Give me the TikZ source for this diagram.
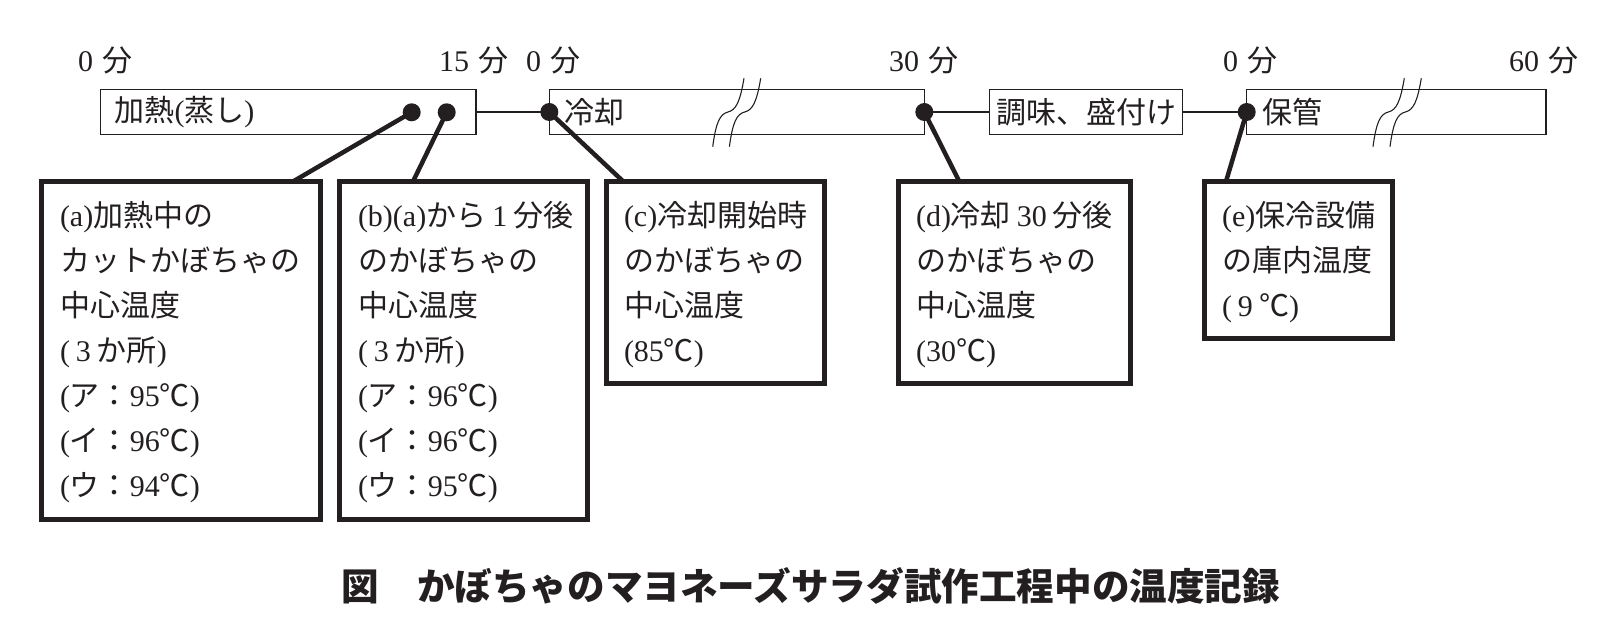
\documentclass[tikz,border=0pt]{standalone}
\usepackage{fontspec}
\setmainfont{Liberation Serif}
\newfontfamily\jp{Noto Sans CJK JP}
\usetikzlibrary{calc}
\definecolor{ink}{HTML}{231F20}
\newcommand\Lat[1]{{\rmfamily #1}}
\newcommand\qs{\hspace{0.2em}}
\newcommand\ls{\hspace{0.3em}}
\newcommand\pp[1]{\Lat{(}#1\Lat{)}}
\tikzset{
  brkmark/.pic={\draw[line width=1.1pt] (0,0) .. controls (3.3,-24.7) and (7.3,-32.7) .. (15.3,-34.7) .. controls (23.3,-36.7) and (27.3,-44.7) .. (31.3,-68.4);}
}
\begin{document}
\begin{tikzpicture}[x=1pt,y=-1pt,color=ink,
  every node/.style={inner sep=0pt, outer sep=0pt},
  jpfont/.style={font=\jp\fontsize{30}{45}\selectfont},
  tbox/.style={draw, line width=1.4pt, minimum height=45pt},
  callout/.style={draw, line width=5pt, rectangle},
  ctext/.style={jpfont, align=left, anchor=west},
  dotnode/.style={circle, fill, minimum size=18pt},
  leader/.style={line width=4.5pt},
  thinline/.style={line width=1.4pt}
]
\useasboundingbox (0,0) rectangle (1606,640);

% timeline boxes
\node[tbox, minimum width=375.5pt] (heat) at (288.25,112) {};
\node[tbox, minimum width=375pt] (cool) at (736.8,112) {};
\node[tbox, minimum width=193.4pt] (season) at (1086,112) {};
\node[tbox, minimum width=299.3pt] (keep) at (1396.35,112) {};

\node[jpfont, anchor=west] (heatT) at ($(heat.west)+(14,0)$) {加熱\Lat{(}蒸し\Lat{)}};
\node[jpfont, anchor=west] (coolT) at ($(cool.west)+(15,0)$) {冷却};
\node[jpfont] (seasonT) at (season.center) {調味、盛付け};
\node[jpfont, anchor=west] (keepT) at ($(keep.west)+(16,0)$) {保管};

% break marks
\pic at (712.7,146.7) {brkmark};
\pic at (729.4,146.7) {brkmark};
\pic at (1373,146.7) {brkmark};
\pic at (1390,146.7) {brkmark};

% time labels
\node[jpfont, anchor=base west] (t0) at (78,71) {\Lat{0}\ls 分};
\node[jpfont, anchor=base east] (t15) at (508,71) {\Lat{15}\ls 分};
\node[jpfont, anchor=base west] (t0b) at (526,71) {\Lat{0}\ls 分};
\node[jpfont, anchor=base east] (t30) at (958,71) {\Lat{30}\ls 分};
\node[jpfont, anchor=base west] (t0c) at (1223,71) {\Lat{0}\ls 分};
\node[jpfont, anchor=base east] (t60) at (1578,71) {\Lat{60}\ls 分};

% connectors
\draw[thinline] (heat.east) -- (cool.west);
\draw[thinline] (cool.east) -- (season.west);
\draw[thinline] (season.east) -- (keep.west);

% callout boxes
\node[callout, minimum width=279pt, minimum height=338pt, anchor=north west] (ba) at (41.5,181.5) {};
\node[callout, minimum width=248pt, minimum height=338pt, anchor=north west] (bb) at (339.5,181.5) {};
\node[callout, minimum width=218pt, minimum height=202pt, anchor=north west] (bc) at (606.5,181.5) {};
\node[callout, minimum width=232pt, minimum height=202pt, anchor=north west] (bd) at (898.5,181.5) {};
\node[callout, minimum width=188pt, minimum height=157pt, anchor=north west] (be) at (1204.5,181.5) {};

% dot positions
\coordinate (pa) at (411.7,112.3);
\coordinate (pb) at (446.7,112.3);

% leaders
\draw[leader] (pa) -- ($(ba.north west)+(251.5,0)$);
\draw[leader] (pb) -- ($(bb.north west)+(73.5,0)$);
\draw[leader] (cool.west) -- ($(bc.north west)+(16.8,0)$);
\draw[leader] (cool.east) -- ($(bd.north west)+(60.8,0)$);
\draw[leader] (keep.west) -- ($(be.north west)+(21.5,0)$);

\node[dotnode] (da) at (pa) {};
\node[dotnode] (db) at (pb) {};
\node[dotnode] (dc) at (cool.west) {};
\node[dotnode] (dd) at (cool.east) {};
\node[dotnode] (de) at (keep.west) {};

% callout texts
\node[ctext] (ta) at ($(ba.west)+(18.5,2)$) {\Lat{(a)}加熱中の\\
カットかぼちゃの\\
中心温度\\
\pp{\qs\Lat{3}\qs か所}\\
\pp{ア：\Lat{95}℃}\\
\pp{イ：\Lat{96}℃}\\
\pp{ウ：\Lat{94}℃}};
\node[ctext] (tb) at ($(bb.west)+(18.5,2)$) {\Lat{(b)(a)}から\qs\Lat{1}\qs 分後\\
のかぼちゃの\\
中心温度\\
\pp{\qs\Lat{3}\qs か所}\\
\pp{ア：\Lat{96}℃}\\
\pp{イ：\Lat{96}℃}\\
\pp{ウ：\Lat{95}℃}};
\node[ctext] (tc) at ($(bc.west)+(17.5,2)$) {\Lat{(c)}冷却開始時\\
のかぼちゃの\\
中心温度\\
\pp{\Lat{85}℃}};
\node[ctext] (td) at ($(bd.west)+(17.5,2)$) {\Lat{(d)}冷却\qs\Lat{30}\qs 分後\\
のかぼちゃの\\
中心温度\\
\pp{\Lat{30}℃}};
\node[ctext] (te) at ($(be.west)+(17.5,2)$) {\Lat{(e)}保冷設備\\
の庫内温度\\
\pp{\qs\Lat{9}\qs ℃}};

% caption
\node[font=\jp\bfseries\fontsize{37.6}{40}\selectfont] (cap) at (811,586) {図　かぼちゃのマヨネーズサラダ試作工程中の温度記録};
\end{tikzpicture}
\end{document}
